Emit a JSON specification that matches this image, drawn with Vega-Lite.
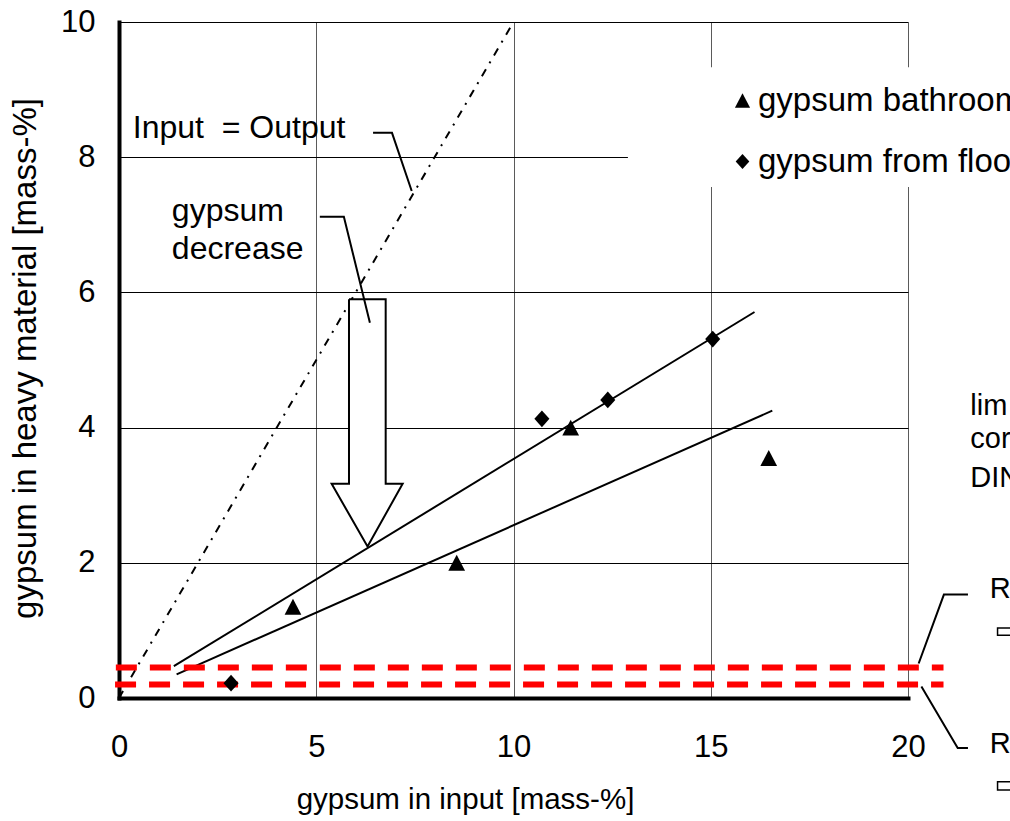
{
  "$schema": "https://vega.github.io/schema/vega-lite/v6.json",
  "width": 789,
  "height": 676,
  "autosize": {"type": "none"},
  "padding": {"left": 119, "top": 22, "right": 102, "bottom": 123},
  "background": "white",
  "config": {
    "font": "Liberation Sans",
    "view": {"stroke": null},
    "axis": {
      "labelFont": "Liberation Sans",
      "labelFontSize": 31,
      "labelColor": "black",
      "titleFont": "Liberation Sans",
      "titleFontSize": 29.5,
      "titleFontWeight": "normal",
      "titleColor": "black",
      "domainColor": "black",
      "domainWidth": 4,
      "domainCap": "square",
      "ticks": false,
      "tickSize": 0,
      "labelFlush": false,
      "labelOverlap": false,
      "grid": true,
      "gridWidth": 1,
      "format": "d"
    },
    "legend": {
      "orient": "none",
      "legendX": 607,
      "legendY": 62,
      "title": null,
      "labelFont": "Liberation Sans",
      "labelFontSize": 33,
      "labelColor": "black",
      "labelLimit": 0,
      "symbolSize": 230,
      "symbolFillColor": "black",
      "symbolStrokeWidth": 0,
      "rowPadding": 27,
      "labelOffset": -1,
      "padding": 0,
      "symbolOffset": 0
    }
  },
  "datasets": {
    "points": [
      {"gypsum_input": 4.41, "gypsum_heavy": 1.35, "series": "gypsum bathroom"},
      {"gypsum_input": 8.56, "gypsum_heavy": 2.0, "series": "gypsum bathroom"},
      {"gypsum_input": 11.45, "gypsum_heavy": 4.0, "series": "gypsum bathroom"},
      {"gypsum_input": 16.47, "gypsum_heavy": 3.55, "series": "gypsum bathroom"},
      {"gypsum_input": 2.84, "gypsum_heavy": 0.22, "series": "gypsum from floor"},
      {"gypsum_input": 10.72, "gypsum_heavy": 4.13, "series": "gypsum from floor"},
      {"gypsum_input": 12.39, "gypsum_heavy": 4.41, "series": "gypsum from floor"},
      {"gypsum_input": 15.05, "gypsum_heavy": 5.31, "series": "gypsum from floor"}
    ],
    "identity": [
      {"x": 0, "y": 0},
      {"x": 10, "y": 10}
    ],
    "limits": [
      {"id": "limit upper", "x": -0.08, "y": 0.45},
      {"id": "limit upper", "x": 20.9, "y": 0.45},
      {"id": "limit lower", "x": -0.1, "y": 0.2},
      {"id": "limit lower", "x": 20.9, "y": 0.2}
    ],
    "legendbox": [
      {"x": 12.9, "x2": 24, "y": 7.56, "y2": 9.33}
    ],
    "shaft": [
      {"x": 5.83, "x2": 6.76, "y": 3.17, "y2": 5.9}
    ],
    "head": [
      {"y": 3.17, "x": 5.39, "x2": 7.19},
      {"y": 2.24, "x": 6.3, "x2": 6.3}
    ],
    "lines": [
      {"id": "fit floor", "i": 0, "x": 1.39, "y": 0.47},
      {"id": "fit floor", "i": 1, "x": 16.11, "y": 5.71},
      {"id": "fit bathroom", "i": 0, "x": 1.46, "y": 0.35},
      {"id": "fit bathroom", "i": 1, "x": 16.56, "y": 4.25},
      {"id": "arrow", "i": 0, "x": 5.83, "y": 5.9},
      {"id": "arrow", "i": 1, "x": 6.76, "y": 5.9},
      {"id": "arrow", "i": 2, "x": 6.76, "y": 3.17},
      {"id": "arrow", "i": 3, "x": 7.19, "y": 3.17},
      {"id": "arrow", "i": 4, "x": 6.3, "y": 2.24},
      {"id": "arrow", "i": 5, "x": 5.39, "y": 3.17},
      {"id": "arrow", "i": 6, "x": 5.83, "y": 3.17},
      {"id": "arrow", "i": 7, "x": 5.83, "y": 5.9},
      {"id": "leader io", "i": 0, "x": 6.44, "y": 8.36},
      {"id": "leader io", "i": 1, "x": 6.92, "y": 8.36},
      {"id": "leader io", "i": 2, "x": 7.42, "y": 7.5},
      {"id": "leader decrease", "i": 0, "x": 5.09, "y": 7.12},
      {"id": "leader decrease", "i": 1, "x": 5.7, "y": 7.12},
      {"id": "leader decrease", "i": 2, "x": 6.36, "y": 5.55},
      {"id": "leader r1", "i": 0, "x": 21.52, "y": 1.53},
      {"id": "leader r1", "i": 1, "x": 20.91, "y": 1.53},
      {"id": "leader r1", "i": 2, "x": 20.27, "y": 0.51},
      {"id": "leader r2", "i": 0, "x": 20.34, "y": 0.17},
      {"id": "leader r2", "i": 1, "x": 21.26, "y": -0.74},
      {"id": "leader r2", "i": 2, "x": 21.52, "y": -0.74}
    ],
    "boxes": [
      {"x": 22.27, "x2": 24, "y": 0.93, "y2": 1.035},
      {"x": 22.27, "x2": 24, "y": -1.36, "y2": -1.24}
    ],
    "labels": [
      {"label": "Input\u00a0 = Output", "x": 0.35, "y": 8.28},
      {"label": "gypsum", "x": 1.34, "y": 7.05},
      {"label": "decrease", "x": 1.34, "y": 6.49}
    ],
    "sidelabels": [
      {"label": "lim", "x": 21.58, "y": 4.19},
      {"label": "cor", "x": 21.58, "y": 3.7},
      {"label": "DIN", "x": 21.58, "y": 3.12},
      {"label": "R", "x": 22.07, "y": 1.48},
      {"label": "R", "x": 22.07, "y": -0.81}
    ]
  },
  "layer": [
    {
      "data": {"name": "legendbox"},
      "mark": {"type": "rect", "fill": "white", "strokeWidth": 0},
      "encoding": {
        "x": {"field": "x", "type": "quantitative", "scale": {"domain": [0, 20], "nice": false, "zero": false},
          "axis": {"values": [0, 5, 10, 15, 20], "gridColor": "#5a5a5a", "labelPadding": 34, "title": "gypsum in input [mass-%]", "titleX": 346, "titleY": 110, "titleBaseline": "alphabetic", "titleAlign": "center", "titleAnchor": null}},
        "x2": {"field": "x2"},
        "y": {"field": "y", "type": "quantitative", "scale": {"domain": [0, 10], "nice": false, "zero": false},
          "axis": {"values": [0, 2, 4, 6, 8, 10], "gridColor": "black", "labelPadding": 24, "title": "gypsum in heavy material [mass-%]", "titleFontSize": 33, "titleX": -84, "titleY": 336, "titleAngle": 270, "titleBaseline": "alphabetic", "titleAlign": "center", "titleAnchor": null}},
        "y2": {"field": "y2"}
      }
    },
    {
      "data": {"name": "identity"},
      "mark": {"type": "line", "color": "black", "strokeWidth": 2, "strokeDash": [8, 7, 2, 7]},
      "encoding": {
        "x": {"field": "x", "type": "quantitative"},
        "y": {"field": "y", "type": "quantitative"}
      }
    },
    {
      "data": {"name": "shaft"},
      "mark": {"type": "rect", "fill": "white", "strokeWidth": 0},
      "encoding": {
        "x": {"field": "x", "type": "quantitative"},
        "x2": {"field": "x2"},
        "y": {"field": "y", "type": "quantitative"},
        "y2": {"field": "y2"}
      }
    },
    {
      "data": {"name": "head"},
      "mark": {"type": "area", "fill": "white", "orient": "horizontal"},
      "encoding": {
        "y": {"field": "y", "type": "quantitative"},
        "x": {"field": "x", "type": "quantitative"},
        "x2": {"field": "x2"}
      }
    },
    {
      "data": {"name": "lines"},
      "mark": {"type": "line", "color": "black", "strokeWidth": 2, "strokeJoin": "miter"},
      "encoding": {
        "x": {"field": "x", "type": "quantitative"},
        "y": {"field": "y", "type": "quantitative"},
        "detail": {"field": "id", "type": "nominal"},
        "order": {"field": "i", "type": "quantitative"}
      }
    },
    {
      "data": {"name": "limits"},
      "mark": {"type": "line", "color": "#ff0000", "strokeWidth": 6, "strokeDash": [21, 13], "strokeCap": "butt"},
      "encoding": {
        "x": {"field": "x", "type": "quantitative"},
        "y": {"field": "y", "type": "quantitative"},
        "detail": {"field": "id", "type": "nominal"}
      }
    },
    {
      "data": {"name": "points"},
      "mark": {"type": "point", "filled": true, "color": "black", "opacity": 1, "size": 280, "strokeWidth": 0},
      "encoding": {
        "x": {"field": "gypsum_input", "type": "quantitative"},
        "y": {"field": "gypsum_heavy", "type": "quantitative"},
        "shape": {
          "field": "series",
          "type": "nominal",
          "scale": {
            "domain": ["gypsum bathroom", "gypsum from floor"],
            "range": ["M0,-0.95L1,0.95L-1,0.95Z", "M0,-1L0.9,0L0,1L-0.9,0Z"]
          }
        }
      }
    },
    {
      "data": {"name": "boxes"},
      "mark": {"type": "rect", "fill": "white", "stroke": "black", "strokeWidth": 1.5},
      "encoding": {
        "x": {"field": "x", "type": "quantitative"},
        "x2": {"field": "x2"},
        "y": {"field": "y", "type": "quantitative"},
        "y2": {"field": "y2"}
      }
    },
    {
      "data": {"name": "labels"},
      "mark": {"type": "text", "align": "left", "baseline": "alphabetic", "fontSize": 32, "color": "black", "font": "Liberation Sans"},
      "encoding": {
        "x": {"field": "x", "type": "quantitative"},
        "y": {"field": "y", "type": "quantitative"},
        "text": {"field": "label", "type": "nominal"}
      }
    },
    {
      "data": {"name": "sidelabels"},
      "mark": {"type": "text", "align": "left", "baseline": "alphabetic", "fontSize": 29, "color": "black", "font": "Liberation Sans"},
      "encoding": {
        "x": {"field": "x", "type": "quantitative"},
        "y": {"field": "y", "type": "quantitative"},
        "text": {"field": "label", "type": "nominal"}
      }
    }
  ]
}
